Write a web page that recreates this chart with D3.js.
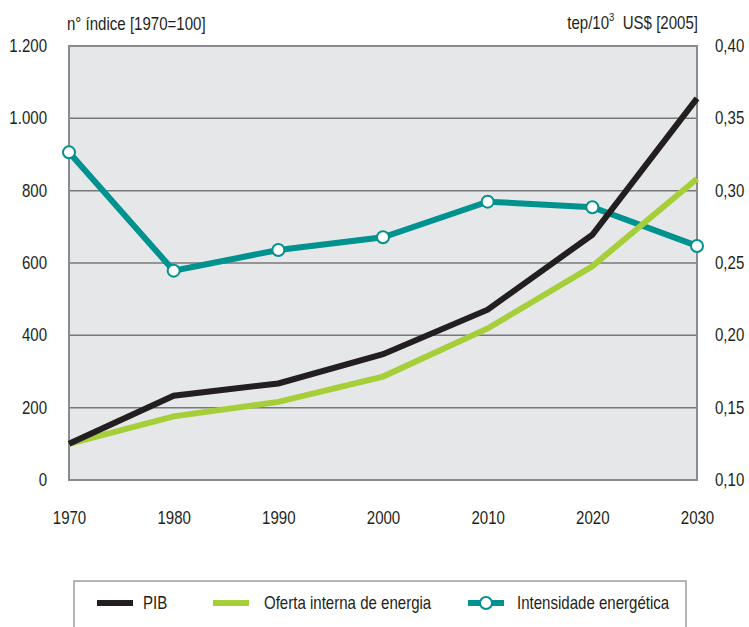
<!DOCTYPE html>
<html>
<head>
<meta charset="utf-8">
<script src="https://cdn.jsdelivr.net/npm/d3@7"></script>
<style>
  body { margin: 0; background: #fff; }
  svg text { font-family: "Liberation Sans", Arial, sans-serif; font-size: 17.5px; fill: #231f20; }
</style>
</head>
<body>
<svg id="chart"></svg>
<script>
var width = 749,
    height = 627,
    left = 69,
    top_ = 46,
    plotW = 628,
    plotH = 434,
    squeeze = 0.86;

// data
var years = [1970, 1980, 1990, 2000, 2010, 2020, 2030];
var pib = [100, 233, 267, 348, 471, 678, 1055];
var oferta = [100, 176, 216, 286, 419, 591, 833];
var intensidade = [0.3265, 0.2447, 0.259, 0.2678, 0.2924, 0.2885, 0.2618];
var leftTicks = [0, 200, 400, 600, 800, 1000, 1200];
var rightTicks = [0.10, 0.15, 0.20, 0.25, 0.30, 0.35, 0.40];
var seriesNames = ["PIB", "Oferta interna de energia", "Intensidade energética"];
var colors = ["#231f20", "#a6ce39", "#00928f"];

var pt = d3.formatLocale({decimal: ",", thousands: ".", grouping: [3], currency: ["", ""]});
var fmtLeft = pt.format(","),
    fmtRight = pt.format(".2f");

// narrow the text a bit, the original uses a condensed face
function condense(sel) {
  sel.each(function() {
    var t = d3.select(this);
    var x0 = +t.attr("x") || 0;
    t.attr("x", x0 / squeeze).attr("transform", "scale(" + squeeze + ",1)");
  });
}

var svg = d3.select("#chart").attr("width", width).attr("height", height);

var x = d3.scaleLinear().domain([1970, 2030]).range([left, left + plotW]);
var yL = d3.scaleLinear().domain([0, 1200]).range([top_ + plotH, top_]);
var yR = d3.scaleLinear().domain([0.10, 0.40]).range([top_ + plotH, top_]);

// plot background
svg.append("rect")
  .attr("x", left).attr("y", top_)
  .attr("width", plotW).attr("height", plotH)
  .attr("fill", "#e6e7e8");

// gridlines
svg.append("g").selectAll("line")
  .data(leftTicks.filter(d => d > 0 && d < 1200))
  .enter().append("line")
  .attr("x1", left).attr("x2", left + plotW)
  .attr("y1", d => yL(d)).attr("y2", d => yL(d))
  .attr("stroke", "#77787b").attr("stroke-width", 1.5);

// frame
svg.append("rect")
  .attr("x", left).attr("y", top_)
  .attr("width", plotW).attr("height", plotH)
  .attr("fill", "none")
  .attr("stroke", "#8a8b8e").attr("stroke-width", 2);

// axes
var axisL = d3.axisLeft(yL).tickValues(leftTicks).tickFormat(fmtLeft).tickSize(0).tickPadding(22);
var axisR = d3.axisRight(yR).tickValues(rightTicks).tickFormat(fmtRight).tickSize(0).tickPadding(18);
var axisB = d3.axisBottom(x).tickValues(years).tickFormat(d3.format("d")).tickSize(0).tickPadding(32);

[svg.append("g").attr("transform", "translate(" + left + ",0)").call(axisL),
 svg.append("g").attr("transform", "translate(" + (left + plotW) + ",0)").call(axisR),
 svg.append("g").attr("transform", "translate(0," + (top_ + plotH) + ")").call(axisB)
].forEach(function(g) {
  g.select(".domain").remove();
  g.selectAll("text").attr("font-size", null).attr("font-family", null).attr("fill", "#231f20").call(condense);
});

// axis titles
svg.append("text").attr("x", 67).attr("y", 30).text("n° índice [1970=100]").call(condense);
var rt = svg.append("text").attr("x", 698).attr("y", 29).attr("text-anchor", "end");
rt.append("tspan").text("tep/10");
rt.append("tspan").attr("dy", -8).attr("font-size", 11).text("3");
rt.append("tspan").attr("dy", 8).text("\u00a0 US$ [2005]");
rt.call(condense);

// lines
var lineL = d3.line().x((d, i) => x(years[i])).y(d => yL(d));
var lineR = d3.line().x((d, i) => x(years[i])).y(d => yR(d));

svg.append("path").datum(intensidade)
  .attr("d", lineR).attr("fill", "none")
  .attr("stroke", colors[2]).attr("stroke-width", 6).attr("stroke-linejoin", "miter");
svg.append("path").datum(oferta)
  .attr("d", lineL).attr("fill", "none")
  .attr("stroke", colors[1]).attr("stroke-width", 6).attr("stroke-linejoin", "miter");
svg.append("path").datum(pib)
  .attr("d", lineL).attr("fill", "none")
  .attr("stroke", colors[0]).attr("stroke-width", 6).attr("stroke-linejoin", "miter");

svg.append("g").selectAll("circle")
  .data(intensidade)
  .enter().append("circle")
  .attr("cx", (d, i) => x(years[i]))
  .attr("cy", d => yR(d))
  .attr("r", 6)
  .attr("fill", "#fff")
  .attr("stroke", colors[2]).attr("stroke-width", 2);

// legend
svg.append("rect")
  .attr("x", 74).attr("y", 581)
  .attr("width", 612).attr("height", 80)
  .attr("fill", "#fff")
  .attr("stroke", "#9d9fa2").attr("stroke-width", 1.5);

var legX = [97, 213, 468];
var legend = svg.append("g").selectAll("g")
  .data(seriesNames)
  .enter().append("g")
  .attr("transform", (d, i) => "translate(" + legX[i] + ",603)");

legend.append("line")
  .attr("x1", 0).attr("x2", 36)
  .attr("stroke", (d, i) => colors[i]).attr("stroke-width", 6);
legend.filter((d, i) => i === 2).append("circle")
  .attr("cx", 18).attr("r", 6)
  .attr("fill", "#fff").attr("stroke", colors[2]).attr("stroke-width", 2);
legend.append("text")
  .attr("x", (d, i) => i === 2 ? 49 : (i === 0 ? 46 : 51))
  .attr("dy", "0.35em")
  .text(d => d)
  .call(condense);
</script>
</body>
</html>
